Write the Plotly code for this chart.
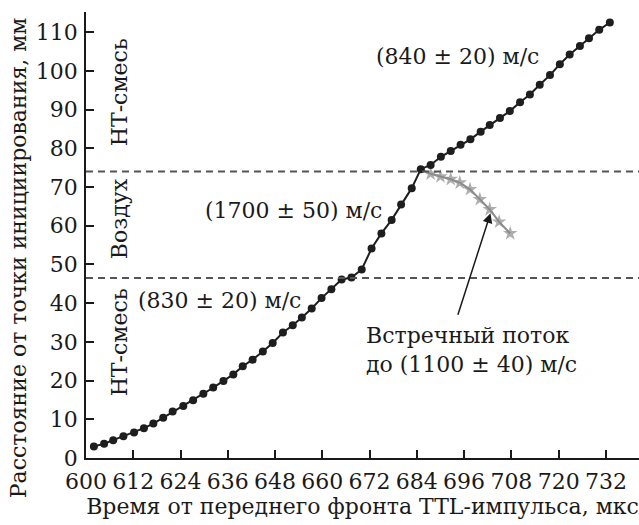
import plotly.graph_objects as go

# Main detonation trajectory (time, µs ; distance, mm)
main_t = [602.0, 604.6, 606.9, 609.5, 612.2, 614.7, 617.1, 619.6, 622.0, 624.7,
          627.2, 629.8, 632.3, 634.9, 637.4, 639.8, 642.3, 644.9, 647.4, 650.0,
          652.5, 654.8, 657.3, 659.8, 662.3, 664.9, 667.4, 670.0, 672.5, 675.0,
          677.6, 680.0, 682.7, 685.0, 687.5, 690.1, 692.6, 695.1, 697.6, 700.2,
          702.5, 705.1, 707.6, 710.2, 712.7, 715.2, 717.8, 720.3, 722.8, 725.4,
          727.7, 730.3, 733.0]
main_d = [3.0, 3.7, 4.6, 5.6, 6.6, 7.7, 8.9, 10.4, 12.0, 13.4,
          14.9, 16.6, 18.2, 19.9, 21.6, 23.7, 25.4, 27.5, 29.7, 32.4,
          34.3, 36.3, 38.6, 41.3, 43.6, 46.1, 46.6, 48.7, 54.1, 58.0,
          61.5, 65.5, 69.7, 74.6, 75.7, 77.8, 79.3, 80.9, 82.3, 84.3,
          86.0, 87.8, 89.6, 91.9, 93.9, 96.4, 98.9, 101.7, 104.2, 106.4,
          108.4, 110.6, 112.5]

# Counter-flow (stars)
star_t = [685.0, 687.5, 690.0, 692.6, 694.9, 697.5, 700.0, 702.5, 704.9, 707.7]
star_d = [74.6, 73.4, 72.7, 72.0, 71.1, 69.4, 66.8, 64.2, 61.0, 58.0]

# Boundaries between media
boundaries = [74.0, 46.5]

x_ticks = list(range(600, 733, 12))
y_ticks = list(range(0, 111, 10))

FONT = "DejaVu Serif"
FS = 22

fig = go.Figure()

fig.add_trace(go.Scatter(
    x=star_t, y=star_d, mode="lines+markers",
    line=dict(color="#8c8c8c", width=2),
    marker=dict(symbol="star", size=[0] + [11] * (len(star_t) - 1), color="#8c8c8c",
                line=dict(width=0)),
    showlegend=False, hoverinfo="skip"))

fig.add_trace(go.Scatter(
    x=main_t, y=main_d, mode="lines+markers",
    line=dict(color="#1e1e1e", width=2),
    marker=dict(symbol="circle", size=8, color="#1e1e1e"),
    showlegend=False, hoverinfo="skip"))

for b in boundaries:
    fig.add_shape(type="line", xref="paper", x0=0, x1=1, yref="y", y0=b, y1=b,
                  line=dict(color="#555555", width=2, dash="7px,5px"))

ann_font = dict(family=FONT, size=FS, color="#1a1a1a")
annotations = [
    dict(x=694.2, y=103.6, text="(840 ± 20) м/с", xanchor="center", yanchor="middle"),
    dict(x=652.8, y=64.0, text="(1700 ± 50) м/с", xanchor="center", yanchor="middle"),
    dict(x=634.0, y=40.7, text="(830 ± 20) м/с", xanchor="center", yanchor="middle"),
    dict(x=608.4, y=94.5, text="НТ-смесь", textangle=-90, xanchor="center", yanchor="middle"),
    dict(x=608.4, y=61.7, text="Воздух", textangle=-90, xanchor="center", yanchor="middle"),
    dict(x=608.4, y=29.9, text="НТ-смесь", textangle=-90, xanchor="center", yanchor="middle"),
    dict(x=670.5, y=35.3, text="Встречный поток<br>до (1100 ± 40) м/с", xanchor="left",
         yanchor="top", align="left"),
]
for a in annotations:
    a.update(xref="x", yref="y", showarrow=False, font=ann_font)
    fig.add_annotation(**a)

fig.add_annotation(x=702.7, y=63.2, ax=694.3, ay=36.6, xref="x", yref="y",
                   axref="x", ayref="y", showarrow=True, arrowhead=2, arrowsize=1.3,
                   arrowwidth=1.5, arrowcolor="#1a1a1a", text="")

# y-axis title (placed as annotation so it can be centred like the reference)
fig.add_annotation(x=-0.123, y=0.45, xref="paper", yref="paper", showarrow=False,
                   text="Расстояние от точки инициирования, мм", textangle=-90,
                   xanchor="center", yanchor="middle", font=ann_font)

fig.update_layout(
    width=639, height=525,
    margin=dict(l=86, r=0, t=12, b=67),
    paper_bgcolor="white", plot_bgcolor="white",
    font=dict(family=FONT, size=FS, color="#1a1a1a"),
    xaxis=dict(range=[600, 740.4], tickvals=x_ticks, ticks="inside", ticklen=8,
               tickwidth=1.5, tickcolor="#1a1a1a", showline=True, linecolor="#1a1a1a",
               linewidth=1.5, showgrid=False, zeroline=False, ticklabelstandoff=3,
               title=dict(text="Время от переднего фронта TTL-импульса, мкс",
                          font=dict(family=FONT, size=FS), standoff=3)),
    yaxis=dict(range=[0, 115.2], tickvals=y_ticks, ticks="inside", ticklen=8,
               tickwidth=1.5, tickcolor="#1a1a1a", showline=True, linecolor="#1a1a1a",
               linewidth=1.5, showgrid=False, zeroline=False, ticklabelstandoff=2),
)

fig.write_html("out.html")
